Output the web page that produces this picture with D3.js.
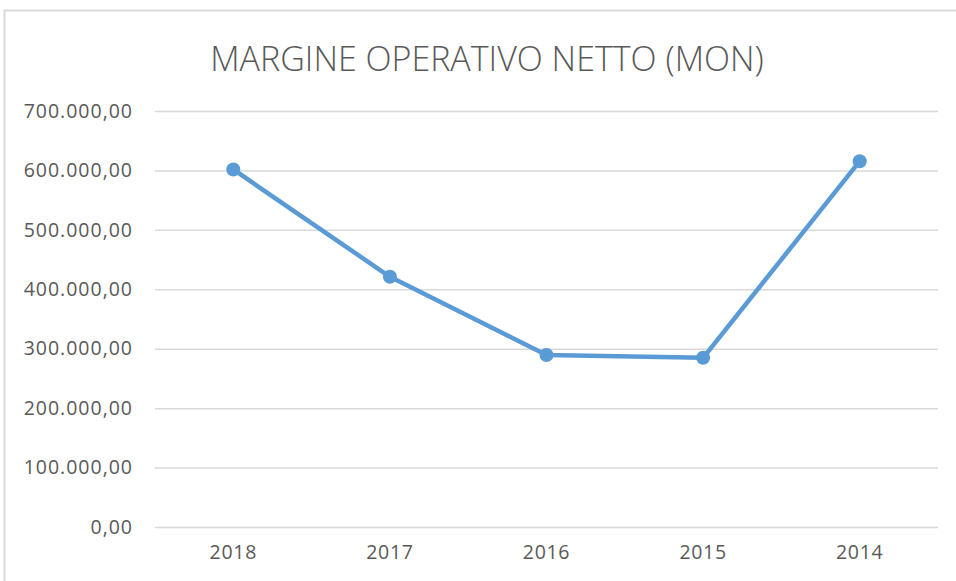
<!DOCTYPE html>
<html><head><meta charset="utf-8">
<script src="https://cdn.jsdelivr.net/npm/d3@7"></script>
<style>html,body{margin:0;padding:0;background:#fff;overflow:hidden}</style>
</head><body>
<svg id="c" width="956" height="581"></svg>
<script>
const categories = ["2018","2017","2016","2015","2014"];
const values = [601600, 421000, 289300, 284700, 615500];
const yTicks = [0,100000,200000,300000,400000,500000,600000,700000];
const title = "MARGINE OPERATIVO NETTO (MON)";

const svg = d3.select("#c");
const m = {left:155, right:938, top:111, bottom:527};
const font = "'Open Sans', 'Noto Sans', sans-serif";

svg.append("rect").attr("x",4.5).attr("y",10.5).attr("width",1000).attr("height",1000)
  .attr("fill","#fff").attr("stroke","#d9d9d9").attr("stroke-width",2);

const x = d3.scaleBand().domain(categories).range([m.left,m.right]);
const y = d3.scaleLinear().domain([0,700000]).range([m.bottom,m.top]);

const fmt = v => {
  const s = d3.format(",.2f")(v);
  return s.replace(/,/g,"#").replace(/\./g,",").replace(/#/g,".");
};

svg.append("text").attr("x",487).attr("y",71).attr("text-anchor","middle")
  .attr("font-family",font).attr("font-weight",300).attr("font-size",34)
  .attr("fill","#595959").text(title);

const gy = svg.append("g").attr("transform",`translate(${m.left},0)`)
  .call(d3.axisLeft(y).tickValues(yTicks).tickSize(-(m.right-m.left)).tickPadding(22).tickFormat(fmt));
gy.select(".domain").remove();
gy.selectAll(".tick line").attr("stroke","#d9d9d9").attr("stroke-width",1.5);
gy.selectAll(".tick text").attr("fill","#595959").attr("font-family",font).attr("font-size",19.5)
  .attr("letter-spacing","1px");

const gx = svg.append("g").attr("transform",`translate(0,${m.bottom})`)
  .call(d3.axisBottom(x).tickSize(0).tickPadding(18));
gx.select(".domain").remove();
gx.selectAll(".tick text").attr("fill","#595959").attr("font-family",font).attr("font-size",19.5)
  .attr("letter-spacing","0.7px");

const line = d3.line().x((d,i)=>x(categories[i])+x.bandwidth()/2).y(d=>y(d));
svg.append("path").datum(values).attr("d",line).attr("fill","none")
  .attr("stroke","#5b9bd5").attr("stroke-width",4.5).attr("stroke-linejoin","round");
svg.selectAll("circle.pt").data(values).join("circle").attr("class","pt")
  .attr("cx",(d,i)=>x(categories[i])+x.bandwidth()/2).attr("cy",d=>y(d)).attr("r",7)
  .attr("fill","#5b9bd5");
</script>
</body></html>
